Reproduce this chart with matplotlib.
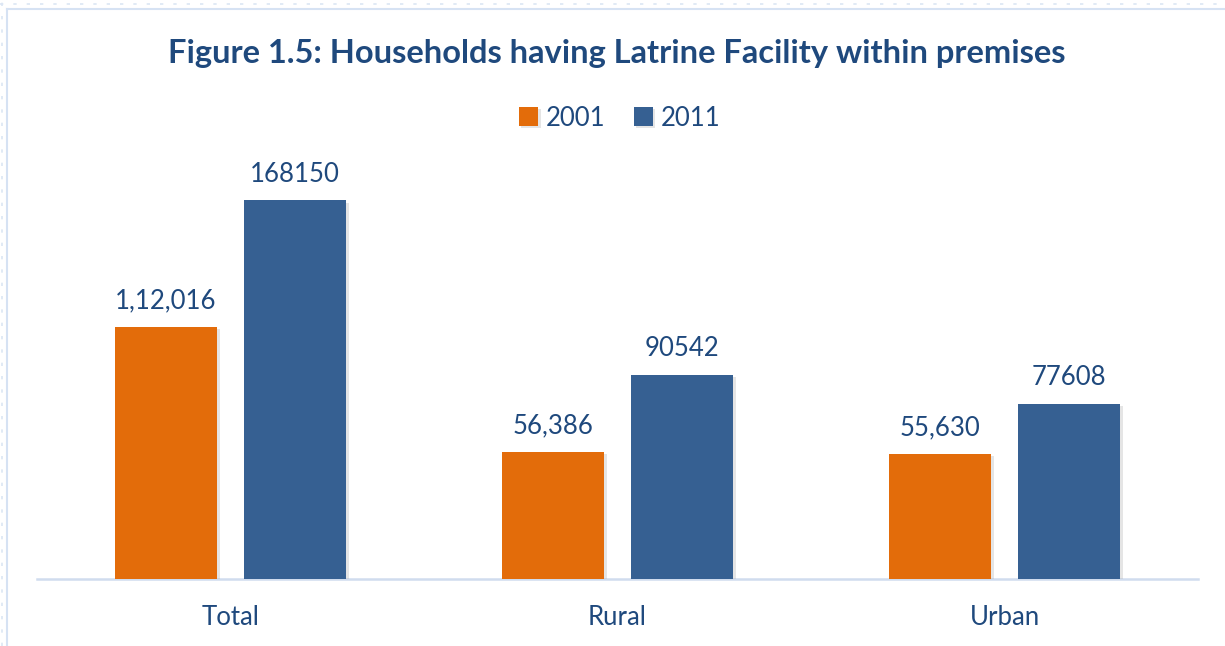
import matplotlib.pyplot as plt
import matplotlib.patheffects as pe
from matplotlib.lines import Line2D
import numpy as np

categories = ['Total', 'Rural', 'Urban']
years = ['2001', '2011']
vals_2001 = [112016, 56386, 55630]
vals_2011 = [168150, 90542, 77608]
labels_2001 = ['1,12,016', '56,386', '55,630']
labels_2011 = ['168150', '90542', '77608']

orange = '#E36C0A'
blue = '#366092'
text_col = '#1F497D'
font = 'Lato'
fs = 18.5

fig = plt.figure(figsize=(12.25, 6.46), dpi=100)
ax = fig.add_axes([37 / 1225, 67 / 646, 1161 / 1225, 439 / 646])

x = np.arange(len(categories))
w = 0.266
off = 0.1667
shadow = [pe.SimplePatchShadow(offset=(1.5, -1.5), shadow_rgbFace='#aaaaaa', alpha=0.3), pe.Normal()]

b1 = ax.bar(x - off, vals_2001, w, color=orange, label=years[0], path_effects=shadow, zorder=3)
b2 = ax.bar(x + off, vals_2011, w, color=blue, label=years[1], path_effects=shadow, zorder=3)

for bars, labs in ((b1, labels_2001), (b2, labels_2011)):
    for rect, lab in zip(bars, labs):
        ax.annotate(lab, (rect.get_x() + rect.get_width() / 2, rect.get_height()),
                    xytext=(0, 10), textcoords='offset points', ha='center', va='bottom',
                    fontsize=fs, color=text_col, family=font)

ax.set_xlim(-0.5, 2.5)
ax.set_ylim(0, 195000)
ax.set_yticks([])
ax.set_xticks(x)
ax.set_xticklabels(categories, fontsize=fs, color=text_col, family=font)
ax.tick_params(axis='x', length=0, pad=19)
for s in ['top', 'right', 'left']:
    ax.spines[s].set_visible(False)
ax.spines['bottom'].set_color('#D0DCEE')
ax.spines['bottom'].set_linewidth(1.8)

fig.text(617 / 1225, 1 - 53 / 646, 'Figure 1.5: Households having Latrine Facility within premises',
         ha='center', va='center', fontsize=23.5, fontweight='bold', color=text_col, family=font)

fig.legend(handles=[b1, b2], labels=years, loc='center', bbox_to_anchor=(620 / 1225, 1 - 118 / 646),
           ncol=2, frameon=False, handlelength=0.75, handleheight=0.75,
           handletextpad=0.3, columnspacing=1.1, prop={'family': font, 'size': fs},
           labelcolor=text_col)

# page border
fig.add_artist(Line2D([7 / 1225, 1], [1 - 9 / 646, 1 - 9 / 646], color='#D6E2F3', lw=1.5))
fig.add_artist(Line2D([7 / 1225, 7 / 1225], [0, 1 - 9 / 646], color='#D6E2F3', lw=1.5))
fig.add_artist(Line2D([0, 1], [1 - 4 / 646, 1 - 4 / 646], color='#DCE6F4', lw=1.2, ls=(0, (2, 6))))
fig.add_artist(Line2D([2 / 1225, 2 / 1225], [0, 1], color='#DCE6F4', lw=1.2, ls=(0, (2, 6))))

fig.savefig('out.png', dpi=100)
